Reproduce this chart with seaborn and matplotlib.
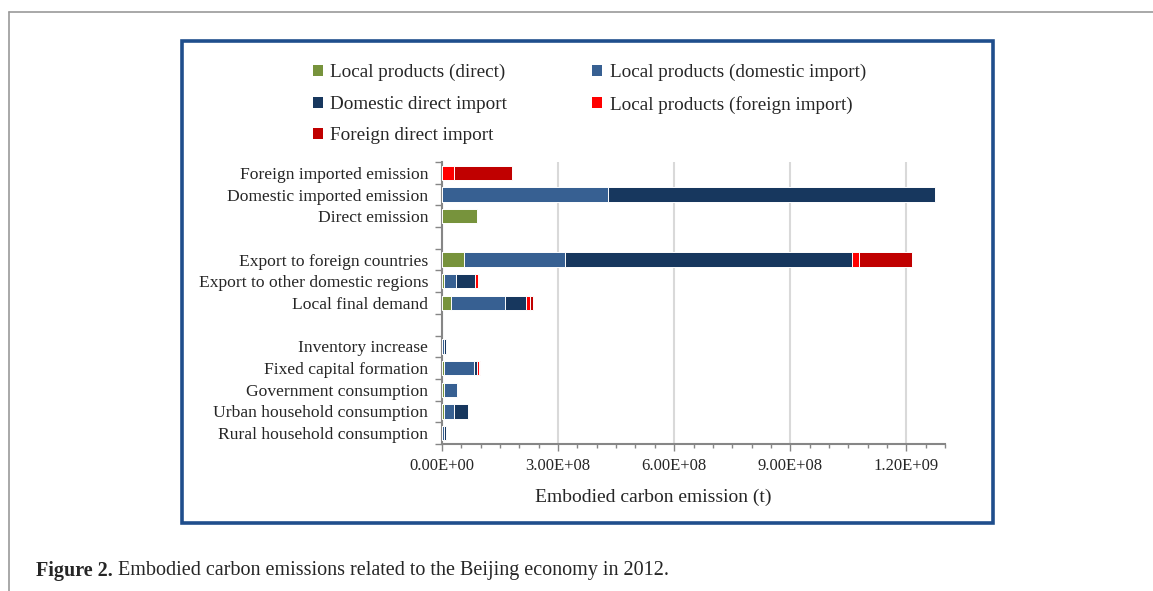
import numpy as np
import pandas as pd
import matplotlib
matplotlib.use("Agg")
import matplotlib.pyplot as plt
from matplotlib.patches import Patch
from matplotlib.lines import Line2D
from matplotlib.ticker import MultipleLocator, FixedLocator, FuncFormatter
import seaborn as sns

# ---------------- data ----------------
categories = [
    "Foreign imported emission",
    "Domestic imported emission",
    "Direct emission",
    "gap1",
    "Export to foreign countries",
    "Export to other domestic regions",
    "Local final demand",
    "gap2",
    "Inventory increase",
    "Fixed capital formation",
    "Government consumption",
    "Urban household consumption",
    "Rural household consumption",
]
series_names = [
    "Local products (direct)",
    "Local products (domestic import)",
    "Domestic direct import",
    "Local products (foreign import)",
    "Foreign direct import",
]
# values in tonnes, one list per series, aligned with `categories` (gaps = 0)
local_direct = [0, 0, 8.97e7, 0, 5.8e7, 5.0e6, 2.4e7, 0, 1.0e6, 5.0e6, 4.0e6, 5.0e6, 1.0e6]
local_dom_import = [0, 4.29e8, 0, 0, 2.6e8, 3.2e7, 1.39e8, 0, 4.0e6, 7.8e7, 3.5e7, 2.7e7, 5.0e6]
dom_direct_import = [0, 8.44e8, 0, 0, 7.42e8, 4.9e7, 5.3e7, 0, 5.0e6, 7.5e6, 0, 3.6e7, 4.0e6]
local_for_import = [3.1e7, 0, 0, 0, 1.8e7, 6.0e6, 1.2e7, 0, 0, 4.0e6, 0, 0, 0]
for_direct_import = [1.49e8, 0, 0, 0, 1.355e8, 4.0e6, 7.0e6, 0, 0, 3.5e6, 0, 0, 0]
x_ticks = [0, 3.0e8, 6.0e8, 9.0e8, 1.2e9]

series_values = [local_direct, local_dom_import, dom_direct_import,
                 local_for_import, for_direct_import]
colors = ["#77933C", "#376092", "#17375E", "#FF0000", "#C00000"]

# ---------------- figure ----------------
W, H = 1153, 591
fig = plt.figure(figsize=(W / 100, H / 100), dpi=100)
sns.set_style("white")
plt.rcParams["font.family"] = ["Liberation Serif", "DejaVu Serif"]

def fx(px):
    return px / W

def fy(py):
    return 1 - py / H

ax = fig.add_axes([fx(442), fy(444), fx(945) - fx(442), fy(162) - fy(444)])

rows = []
for ci, cat in enumerate(categories):
    if cat.startswith("gap"):
        continue
    cum = 0.0
    for si, name in enumerate(series_names):
        cum += series_values[si][ci]
        rows.append({"category": cat, "series": name, "cum": cum})
df = pd.DataFrame(rows)

# draw cumulative bars from the last series to the first (overlay stacking)
for si in range(len(series_names) - 1, -1, -1):
    sub = df[df["series"] == series_names[si]]
    sns.barplot(data=sub, x="cum", y="category", order=categories,
                color=colors[si], saturation=1, width=0.66,
                edgecolor="white", linewidth=0.7, errorbar=None, ax=ax,
                zorder=3)

ax.set_xlim(0, 1.3e9)
ax.set_ylim(len(categories) - 0.5, -0.5)

# x axis
ax.xaxis.set_major_locator(FixedLocator(x_ticks))
ax.xaxis.set_minor_locator(MultipleLocator(5e7))
ax.xaxis.set_major_formatter(FuncFormatter(lambda v, p: f"{v:.2E}"))
ax.tick_params(axis="x", which="major", direction="out", length=5, width=1,
               color="#868686", labelsize=12, pad=5, bottom=True)
ax.tick_params(axis="x", which="minor", direction="out", length=3, width=1,
               color="#868686", bottom=True)
ax.set_xlabel("")
ax.grid(axis="x", which="major", color="#D9D9D9", linewidth=1.5, zorder=0)
ax.set_axisbelow(True)

# y axis: ticks at boundaries, labels at centres
n = len(categories)
ax.yaxis.set_major_locator(FixedLocator(np.arange(-0.5, n, 1.0)))
ax.yaxis.set_major_formatter(FuncFormatter(lambda v, p: ""))
ax.yaxis.set_minor_locator(FixedLocator(np.arange(0, n)))
labels = ["" if c.startswith("gap") else c for c in categories]
ax.yaxis.set_minor_formatter(FuncFormatter(lambda v, p: labels[int(round(v))]))
ax.tick_params(axis="y", which="major", direction="out", length=5, width=1,
               color="#868686", left=True)
ax.tick_params(axis="y", which="minor", length=0, labelsize=12.6, pad=10)
ax.set_ylabel("")

for s in ["top", "right"]:
    ax.spines[s].set_visible(False)
for s in ["left", "bottom"]:
    ax.spines[s].set_color("#868686")
    ax.spines[s].set_linewidth(1.5)

fig.text(fx(653), fy(497), "Embodied carbon emission (t)", ha="center",
         va="center", fontsize=14)

# legend: column-major order to reproduce row layout
order_idx = [0, 2, 4, 1, 3]
handles = [Patch(facecolor=colors[i], edgecolor="none") for i in order_idx]
leg_labels = [series_names[i] for i in order_idx]
fig.legend(handles, leg_labels, ncol=2, loc="upper left",
           bbox_to_anchor=(fx(313), fy(64)), frameon=False, fontsize=13.8,
           handlelength=0.5, handleheight=0.5, handletextpad=0.4,
           labelspacing=0.76, columnspacing=4.45, borderpad=0, borderaxespad=0)

# chart frame (blue) and page frame (gray)
fig.add_artist(plt.Rectangle((fx(182), fy(523)), fx(993) - fx(182), fy(41) - fy(523),
                             transform=fig.transFigure, fill=False,
                             edgecolor="#1F4E8C", linewidth=2.6))
fig.add_artist(Line2D([fx(9), fx(9)], [fy(12), 0], transform=fig.transFigure,
                      color="#9A9A9A", linewidth=1.2))
fig.add_artist(Line2D([fx(9), 1], [fy(12), fy(12)], transform=fig.transFigure,
                      color="#9A9A9A", linewidth=1.2))

# caption
cap_bold = fig.text(fx(36), fy(571), "Figure 2.", fontsize=14.5,
                    fontweight="bold", va="center", ha="left")
fig.canvas.draw()
bb = cap_bold.get_window_extent(renderer=fig.canvas.get_renderer())
fig.text(bb.x1 / W + fx(5), fy(571),
         "Embodied carbon emissions related to the Beijing economy in 2012.",
         fontsize=14.5, va="center", ha="left")

fig.savefig("out.png", dpi=100)
